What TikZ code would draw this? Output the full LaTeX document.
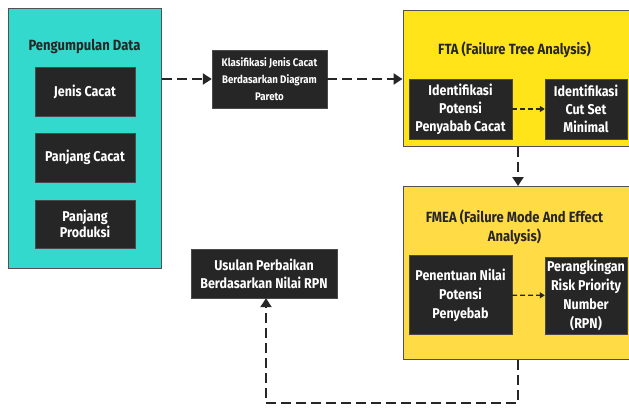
\documentclass[tikz,border=0pt]{standalone}
\usepackage{fontspec}
\setmainfont{Fira Sans}[FakeStretch=0.88]
\usetikzlibrary{arrows.meta}
\definecolor{tealbox}{HTML}{33D9CC}
\definecolor{ftayellow}{HTML}{FFE41A}
\definecolor{fmeayellow}{HTML}{FFDB45}
\definecolor{darkbox}{HTML}{262626}
\tikzset{
  group/.style={draw=darkbox!80,line width=1pt,inner sep=0pt},
  step box/.style={fill=darkbox,draw=darkbox!60!gray,text=white,align=center,
    font=\bfseries\fontsize{14.2}{18}\selectfont,inner sep=1pt},
  title/.style={font=\bfseries\fontsize{14.8}{19}\selectfont,text=darkbox,align=center},
  big arrow/.style={line width=2.8pt,dash pattern=on 10pt off 5pt,
    -{Triangle[length=9pt,width=11pt]},darkbox},
  small arrow/.style={line width=1.3pt,dash pattern=on 5pt off 3pt,
    -{Triangle[length=5pt,width=6pt]},darkbox}
}
\begin{document}
\begin{tikzpicture}[x=1pt,y=-1pt]
  \useasboundingbox (0,0) rectangle (629,410);
  % data collection
  \node[group,fill=tealbox,minimum width=153pt,minimum height=260pt] (data) at (84.5,138) {};
  \node[title] (datatitle) at (84.5,47) {Pengumpulan Data};
  \node[step box,minimum width=100pt,minimum height=49pt] (jenis) at (85,91.5) {Jenis Cacat};
  \node[step box,minimum width=100pt,minimum height=49pt] (panjang) at (85,157.5) {Panjang Cacat};
  \node[step box,minimum width=100pt,minimum height=48pt,
    font=\bfseries\fontsize{14.2}{16.7}\selectfont] (produksi) at (85,224) {Panjang\\Produksi};
  % pareto
  \node[step box,minimum width=115pt,minimum height=58pt,
    font=\bfseries\fontsize{11}{16.7}\selectfont] (pareto) at (269.5,79)
    {Klasifikasi Jenis Cacat\\Berdasarkan Diagram\\Pareto};
  % FTA
  \node[group,fill=ftayellow,minimum width=230pt,minimum height=136pt] (fta) at (518,78) {};
  \node[title] (ftatitle) at (514.5,50) {FTA (Failure Tree Analysis)};
  \node[step box,minimum width=103pt,minimum height=60pt] (potensi) at (460.5,109)
    {Identifikasi\\Potensi\\Penyabab Cacat};
  \node[step box,minimum width=82pt,minimum height=60pt] (cutset) at (586,109)
    {Identifikasi\\Cut Set\\Minimal};
  % FMEA
  \node[group,fill=fmeayellow,minimum width=230pt,minimum height=173pt] (fmea) at (518,273) {};
  \node[title] (fmeatitle) at (514.5,227.5) {FMEA (Failure Mode And Effect\\Analysis)};
  \node[step box,minimum width=103pt,minimum height=79pt,
    font=\bfseries\fontsize{14.2}{19}\selectfont] (nilai) at (460.5,295)
    {Penentuan Nilai\\Potensi\\Penyebab};
  \node[step box,minimum width=82pt,minimum height=77pt,
    font=\bfseries\fontsize{14.2}{19}\selectfont] (rpn) at (586,295.5)
    {Perangkingan\\Risk Priority\\Number\\(RPN)};
  % proposal
  \node[step box,minimum width=146pt,minimum height=49pt] (usulan) at (264,273.5)
    {Usulan Perbaikan\\Berdasarkan Nilai RPN};
  \coordinate (loop) at (518,403);
  % connectors
  \draw[big arrow] (data.east |- pareto.west) -- (pareto.west);
  \draw[big arrow] (pareto.east) -- (fta.west |- pareto.east);
  \draw[small arrow] (potensi) -- (cutset);
  \draw[big arrow] (fta.south) -- (fmea.north);
  \draw[small arrow] (nilai) -- (rpn);
  \draw[big arrow] (fmea.south) -- (loop) -| ([xshift=2pt]usulan.south);
\end{tikzpicture}
\end{document}
